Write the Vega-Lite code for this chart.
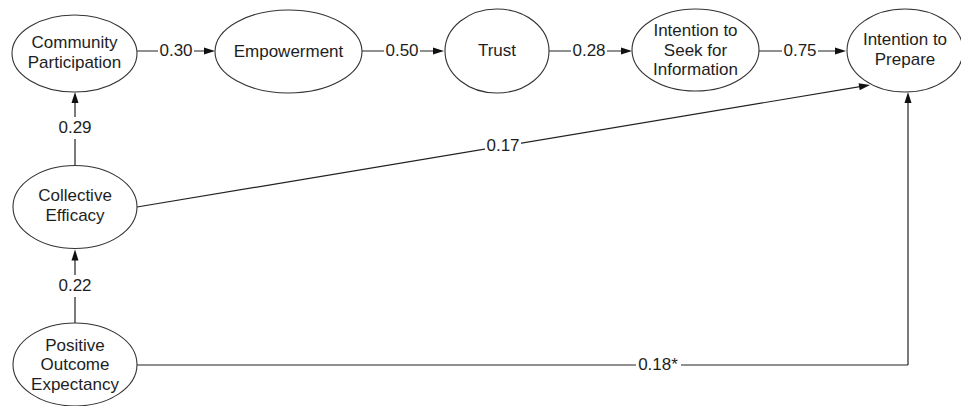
{
  "$schema": "https://vega.github.io/schema/vega-lite/v6.json",
  "width": 961,
  "height": 406,
  "padding": 0,
  "autosize": {"type": "none"},
  "background": "white",
  "view": {"stroke": null},
  "config": {"text": {"font": "Liberation Sans", "fontSize": 17, "color": "#1e1e1e"}},
  "resolve": {"scale": {"shape": "independent"}, "legend": {"shape": "independent"}},
  "datasets": {
    "nodes": [
      {"id": "cp", "x": 74.5, "y": 53.5, "label": ["Community", "Participation"]},
      {"id": "emp", "x": 288.5, "y": 51.5, "label": ["Empowerment"]},
      {"id": "trust", "x": 497, "y": 51, "label": ["Trust"]},
      {"id": "seek", "x": 695.5, "y": 50, "label": ["Intention to", "Seek for", "Information"]},
      {"id": "prep", "x": 905, "y": 50.5, "label": ["Intention to", "Prepare"]},
      {"id": "ce", "x": 75, "y": 207, "label": ["Collective", "Efficacy"]},
      {"id": "poe", "x": 75, "y": 364.5, "label": ["Positive", "Outcome", "Expectancy"]}
    ],
    "segments": [
      {"x1": 137, "y1": 51, "x2": 212, "y2": 51},
      {"x1": 362, "y1": 51, "x2": 441, "y2": 51},
      {"x1": 549, "y1": 51, "x2": 629, "y2": 51},
      {"x1": 759, "y1": 51, "x2": 843, "y2": 51},
      {"x1": 75, "y1": 165.5, "x2": 75, "y2": 96},
      {"x1": 75, "y1": 323, "x2": 75, "y2": 253},
      {"x1": 137, "y1": 207, "x2": 866, "y2": 85.7},
      {"x1": 137, "y1": 365, "x2": 908, "y2": 365},
      {"x1": 908, "y1": 365, "x2": 908, "y2": 96}
    ],
    "arrows": [
      {"x": 215, "y": 51, "dir": "right"},
      {"x": 444, "y": 51, "dir": "right"},
      {"x": 632, "y": 51, "dir": "right"},
      {"x": 846, "y": 51, "dir": "right"},
      {"x": 75, "y": 92, "dir": "up"},
      {"x": 75, "y": 249.5, "dir": "up"},
      {"x": 908, "y": 92, "dir": "up"},
      {"x": 870, "y": 85, "dir": "slant"}
    ],
    "labels": [
      {"x": 176, "y": 51, "t": "0.30"},
      {"x": 402, "y": 51, "t": "0.50"},
      {"x": 589, "y": 51, "t": "0.28"},
      {"x": 800, "y": 51, "t": "0.75"},
      {"x": 75, "y": 128, "t": "0.29"},
      {"x": 75, "y": 286, "t": "0.22"},
      {"x": 503, "y": 146, "t": "0.17"},
      {"x": 658, "y": 365, "t": "0.18*"}
    ]
  },
  "layer": [
    {
      "data": {"name": "segments"},
      "mark": {"type": "rule", "stroke": "#222222", "strokeWidth": 1.2},
      "encoding": {
        "x": {"field": "x1", "type": "quantitative", "scale": {"domain": [0, 961], "nice": false, "zero": false}, "axis": null},
        "y": {"field": "y1", "type": "quantitative", "scale": {"domain": [0, 406], "nice": false, "zero": false, "reverse": true}, "axis": null},
        "x2": {"field": "x2"},
        "y2": {"field": "y2"}
      }
    },
    {
      "data": {"name": "labels"},
      "transform": [{"filter": "length(datum.t) <= 4"}],
      "mark": {"type": "point", "shape": "M -18 -11 H 18 V 11 H -18 Z", "size": 4, "filled": true, "fill": "white", "stroke": null, "opacity": 1},
      "encoding": {
        "x": {"field": "x", "type": "quantitative", "axis": null},
        "y": {"field": "y", "type": "quantitative", "axis": null}
      }
    },
    {
      "data": {"name": "labels"},
      "transform": [{"filter": "length(datum.t) > 4"}],
      "mark": {"type": "point", "shape": "M -22 -11 H 23 V 11 H -22 Z", "size": 4, "filled": true, "fill": "white", "stroke": null, "opacity": 1},
      "encoding": {
        "x": {"field": "x", "type": "quantitative", "axis": null},
        "y": {"field": "y", "type": "quantitative", "axis": null}
      }
    },
    {
      "data": {"name": "arrows"},
      "mark": {"type": "point", "size": 4, "filled": true, "fill": "#111111", "stroke": null, "opacity": 1},
      "encoding": {
        "x": {"field": "x", "type": "quantitative", "axis": null},
        "y": {"field": "y", "type": "quantitative", "axis": null},
        "shape": {
          "field": "dir", "type": "nominal", "legend": null,
          "scale": {
            "domain": ["right", "up", "slant"],
            "range": ["M 0 0 L -11 -3.5 L -11 3.5 Z", "M 0 0 L -3.5 11 L 3.5 11 Z", "M 0 0 L -11.43 -1.64 L -10.28 5.26 Z"]
          }
        }
      }
    },
    {
      "data": {"name": "nodes"},
      "mark": {"type": "point", "size": 4, "filled": true, "fill": "white", "stroke": "#333333", "strokeWidth": 1.1, "opacity": 1},
      "encoding": {
        "x": {"field": "x", "type": "quantitative", "axis": null},
        "y": {"field": "y", "type": "quantitative", "axis": null},
        "shape": {
          "field": "id", "type": "nominal", "legend": null,
          "scale": {
            "domain": ["cp", "emp", "trust", "seek", "prep", "ce", "poe"],
            "range": [
              "M -62.5 0 C -62.5 -21.26 -34.52 -38.5 0 -38.5 C 34.52 -38.5 62.5 -21.26 62.5 0 C 62.5 21.26 34.52 38.5 0 38.5 C -34.52 38.5 -62.5 21.26 -62.5 0 Z",
              "M -73.5 0 C -73.5 -22.92 -40.59 -41.5 0 -41.5 C 40.59 -41.5 73.5 -22.92 73.5 0 C 73.5 22.92 40.59 41.5 0 41.5 C -40.59 41.5 -73.5 22.92 -73.5 0 Z",
              "M -52 0 C -52 -23.2 -28.72 -42 0 -42 C 28.72 -42 52 -23.2 52 0 C 52 23.2 28.72 42 0 42 C -28.72 42 -52 23.2 -52 0 Z",
              "M -63.5 0 C -63.5 -22.64 -35.07 -41 0 -41 C 35.07 -41 63.5 -22.64 63.5 0 C 63.5 22.64 35.07 41 0 41 C -35.07 41 -63.5 22.64 -63.5 0 Z",
              "M -58 0 C -58 -22.92 -32.03 -41.5 0 -41.5 C 32.03 -41.5 58 -22.92 58 0 C 58 22.92 32.03 41.5 0 41.5 C -32.03 41.5 -58 22.92 -58 0 Z",
              "M -62 0 C -62 -22.92 -34.24 -41.5 0 -41.5 C 34.24 -41.5 62 -22.92 62 0 C 62 22.92 34.24 41.5 0 41.5 C -34.24 41.5 -62 22.92 -62 0 Z",
              "M -62 0 C -62 -22.92 -34.24 -41.5 0 -41.5 C 34.24 -41.5 62 -22.92 62 0 C 62 22.92 34.24 41.5 0 41.5 C -34.24 41.5 -62 22.92 -62 0 Z"
            ]
          }
        }
      }
    },
    {
      "data": {"name": "nodes"},
      "transform": [{"filter": "length(datum.label) == 1"}],
      "mark": {"type": "text", "align": "center", "baseline": "middle", "lineHeight": 20},
      "encoding": {
        "x": {"field": "x", "type": "quantitative", "axis": null},
        "y": {"field": "y", "type": "quantitative", "axis": null},
        "text": {"field": "label"}
      }
    },
    {
      "data": {"name": "nodes"},
      "transform": [{"filter": "length(datum.label) == 2"}],
      "mark": {"type": "text", "align": "center", "baseline": "middle", "lineHeight": 20, "dy": -11},
      "encoding": {
        "x": {"field": "x", "type": "quantitative", "axis": null},
        "y": {"field": "y", "type": "quantitative", "axis": null},
        "text": {"field": "label"}
      }
    },
    {
      "data": {"name": "nodes"},
      "transform": [{"filter": "length(datum.label) == 3"}],
      "mark": {"type": "text", "align": "center", "baseline": "middle", "lineHeight": 19.5, "dy": -19},
      "encoding": {
        "x": {"field": "x", "type": "quantitative", "axis": null},
        "y": {"field": "y", "type": "quantitative", "axis": null},
        "text": {"field": "label"}
      }
    },
    {
      "data": {"name": "labels"},
      "mark": {"type": "text", "align": "center", "baseline": "middle"},
      "encoding": {
        "x": {"field": "x", "type": "quantitative", "axis": null},
        "y": {"field": "y", "type": "quantitative", "axis": null},
        "text": {"field": "t"}
      }
    }
  ]
}
